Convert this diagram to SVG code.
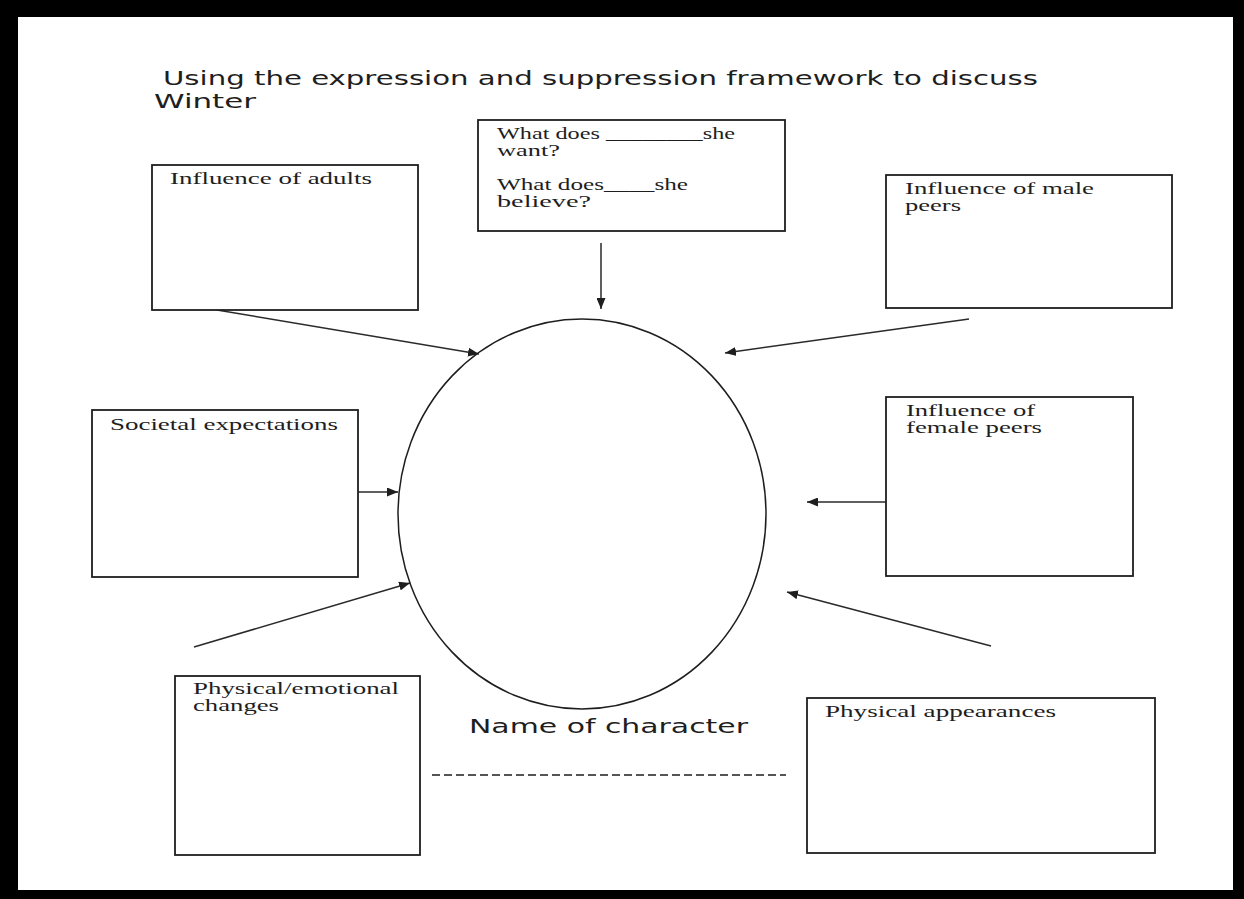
<svg xmlns="http://www.w3.org/2000/svg" width="1244" height="899" viewBox="0 0 1244 899">
  <style>
    .box { fill: #ffffff; stroke: #1e1e1e; stroke-width: 1.8; }
    .lbl { font-family: "Liberation Serif", "Times New Roman", serif; font-size: 17px; fill: #1e1e1e; }
    .hand { font-family: "DejaVu Sans", "Liberation Sans", sans-serif; font-size: 20px; fill: #1e1e1e; }
    .link { stroke: #2a2a2a; stroke-width: 1.5; fill: none; marker-end: url(#head); }
  </style>
  <defs>
    <marker id="head" markerUnits="userSpaceOnUse" markerWidth="11" markerHeight="9" refX="11" refY="4.5" orient="auto">
      <path d="M0,0 L11,4.5 L0,9 z" fill="#1e1e1e"/>
    </marker>
  </defs>

  <!-- black frame and page -->
  <rect x="0" y="0" width="1244" height="899" fill="#000000"/>
  <rect x="18" y="17" width="1215" height="873" fill="#ffffff"/>

  <!-- heading -->
  <g id="heading">
    <text class="hand" x="163" y="85" textLength="875" lengthAdjust="spacingAndGlyphs">Using the expression and suppression framework to discuss</text>
    <text class="hand" x="154" y="108" textLength="102" lengthAdjust="spacingAndGlyphs">Winter</text>
  </g>

  <!-- connectors -->
  <g id="connectors">
    <line class="link" x1="601" y1="243" x2="601" y2="309"/>
    <line class="link" x1="217" y1="310" x2="479" y2="354"/>
    <line class="link" x1="969" y1="319" x2="725" y2="353"/>
    <line class="link" x1="358" y1="492" x2="398" y2="492"/>
    <line class="link" x1="886" y1="502" x2="807" y2="502"/>
    <line class="link" x1="194" y1="647" x2="410" y2="583"/>
    <line class="link" x1="991" y1="646" x2="787" y2="592"/>
  </g>

  <!-- central character -->
  <g id="character">
    <ellipse cx="582" cy="514" rx="184" ry="195" fill="none" stroke="#1e1e1e" stroke-width="1.5"/>
    <text class="hand" x="469" y="733" textLength="279" lengthAdjust="spacingAndGlyphs">Name of character</text>
    <line x1="432" y1="775" x2="786" y2="775" stroke="#1e1e1e" stroke-width="1.6" stroke-dasharray="8 4"/>
  </g>

  <g id="wants">
    <rect class="box" x="478" y="120" width="307" height="111"/>
    <text class="lbl" x="497" y="139" textLength="238" lengthAdjust="spacingAndGlyphs">What does ________she</text>
    <text class="lbl" x="497" y="156" textLength="63" lengthAdjust="spacingAndGlyphs">want?</text>
    <text class="lbl" x="497" y="190" textLength="191" lengthAdjust="spacingAndGlyphs">What does____she</text>
    <text class="lbl" x="497" y="207" textLength="94" lengthAdjust="spacingAndGlyphs">believe?</text>
  </g>

  <g id="adults">
    <rect class="box" x="152" y="165" width="266" height="145"/>
    <text class="lbl" x="170" y="184" textLength="202" lengthAdjust="spacingAndGlyphs">Influence of adults</text>
  </g>

  <g id="male-peers">
    <rect class="box" x="886" y="175" width="286" height="133"/>
    <text class="lbl" x="905" y="194" textLength="189" lengthAdjust="spacingAndGlyphs">Influence of male</text>
    <text class="lbl" x="905" y="211" textLength="56" lengthAdjust="spacingAndGlyphs">peers</text>
  </g>

  <g id="societal">
    <rect class="box" x="92" y="410" width="266" height="167"/>
    <text class="lbl" x="110" y="430" textLength="228" lengthAdjust="spacingAndGlyphs">Societal expectations</text>
  </g>

  <g id="female-peers">
    <rect class="box" x="886" y="397" width="247" height="179"/>
    <text class="lbl" x="906" y="416" textLength="129" lengthAdjust="spacingAndGlyphs">Influence of</text>
    <text class="lbl" x="906" y="433" textLength="136" lengthAdjust="spacingAndGlyphs">female peers</text>
  </g>

  <g id="changes">
    <rect class="box" x="175" y="676" width="245" height="179"/>
    <text class="lbl" x="193" y="694" textLength="206" lengthAdjust="spacingAndGlyphs">Physical/emotional</text>
    <text class="lbl" x="193" y="711" textLength="86" lengthAdjust="spacingAndGlyphs">changes</text>
  </g>

  <g id="appearances">
    <rect class="box" x="807" y="698" width="348" height="155"/>
    <text class="lbl" x="825" y="717" textLength="231" lengthAdjust="spacingAndGlyphs">Physical appearances</text>
  </g>
</svg>
